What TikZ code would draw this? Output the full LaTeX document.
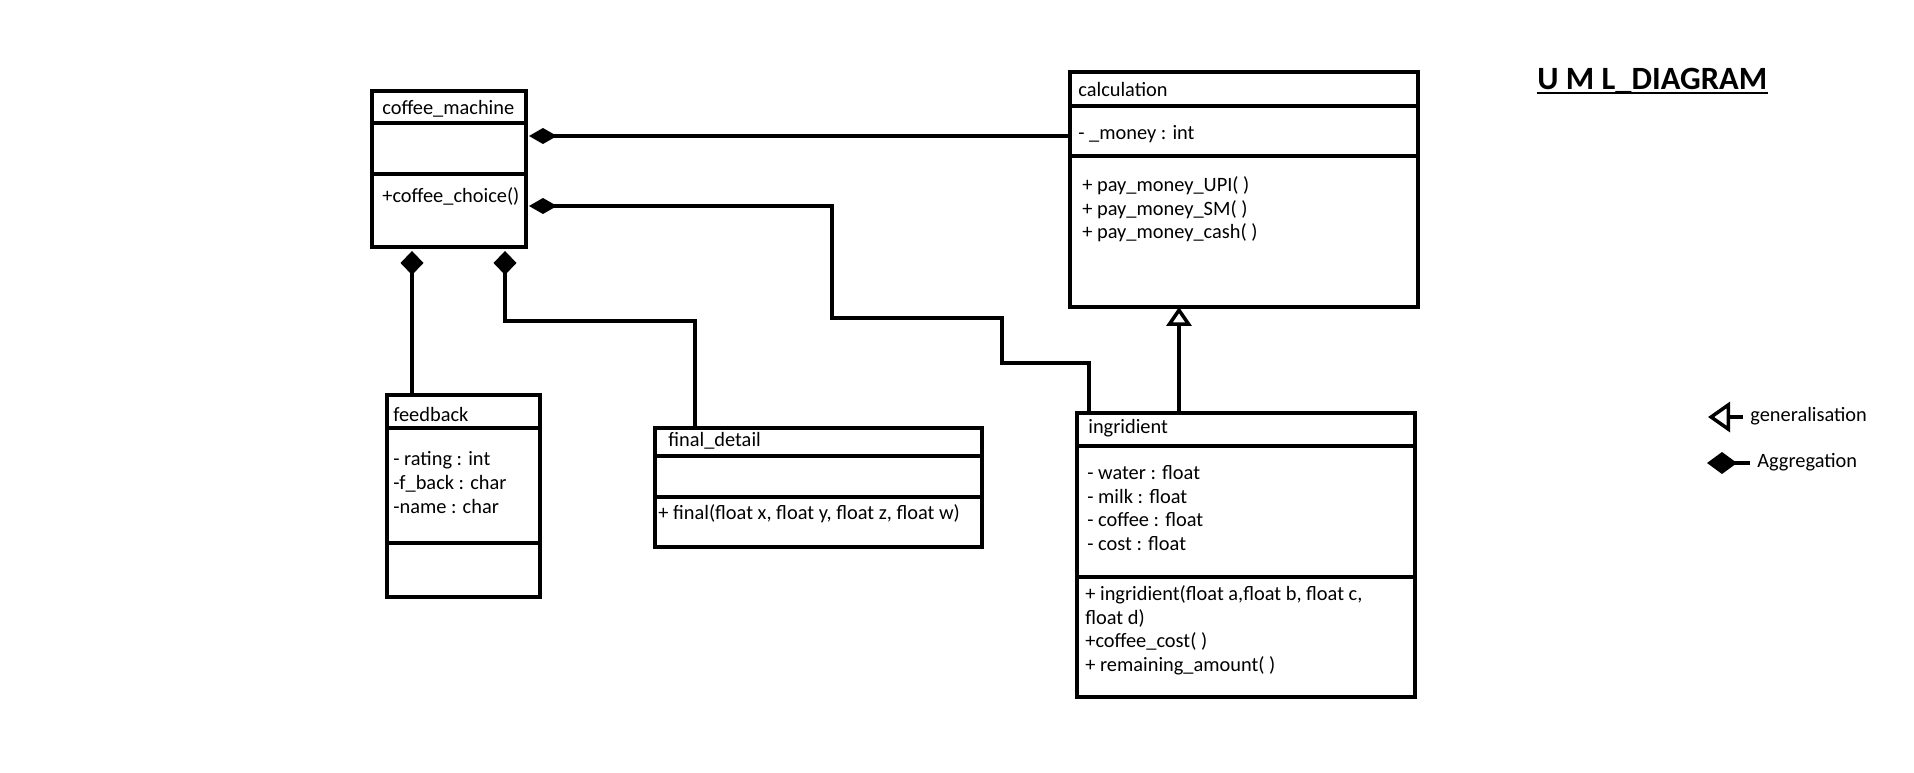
\documentclass[tikz,border=0pt]{standalone}
\usepackage{fontspec}
\setmainfont{Carlito}
\usetikzlibrary{arrows.meta,positioning}
\tikzset{
  cpart/.style={draw, line width=2pt, inner sep=0pt, outer sep=0pt},
  txt/.style={anchor=base west, inner sep=0pt, align=left, font=\fontsize{11.6pt}{13.4pt}\selectfont},
  heading/.style={anchor=base west, inner sep=0pt, font=\fontsize{18.5pt}{22pt}\selectfont\bfseries},
  conn/.style={line width=2pt, line join=miter},
  aggrh/.style={conn, {Diamond[length=0.56cm, width=0.32cm]}-},
  aggrv/.style={conn, {Diamond[length=0.48cm, width=0.46cm]}-},
  gener/.style={conn, -{Triangle[open, length=0.38cm, width=0.5cm, fill=white]}},
}

\begin{document}
\begin{tikzpicture}[x=0.02cm, y=-0.02cm]
  \useasboundingbox (0,0) rectangle (1914,772);

  %% ==================
  %% coffee_machine
  %% ==================
  \node[cpart, minimum width=3.08cm, minimum height=0.64cm, anchor=north west] (cm-head) at (372,91) {};
  \node[cpart, minimum width=3.08cm, minimum height=1.02cm, below=0pt of cm-head] (cm-attr) {};
  \node[cpart, minimum width=3.08cm, minimum height=1.46cm, below=0pt of cm-attr] (cm-ops) {};
  \node[txt] (cm-name) at ([shift={(10,23)}]cm-head.north west) {coffee\_machine};
  \node[txt] (cm-meth) at ([shift={(10,29)}]cm-ops.north west) {+coffee\_choice()};

  %% ==================
  %% calculation
  %% ==================
  \node[cpart, minimum width=6.96cm, minimum height=0.68cm, anchor=north west] (calc-head) at (1070,72) {};
  \node[cpart, minimum width=6.96cm, minimum height=1.00cm, below=0pt of calc-head] (calc-attr) {};
  \node[cpart, minimum width=6.96cm, minimum height=3.02cm, below=0pt of calc-attr] (calc-ops) {};
  \node[txt] (calc-name) at ([shift={(8,24)}]calc-head.north west) {calculation};
  \node[txt] (calc-var) at ([shift={(8,33)}]calc-attr.north west) {- \_money : int};
  % base of a multi-line text is its last line
  \node[txt] (calc-meth) at ([shift={(12,83)}]calc-ops.north west)
    {+ pay\_money\_UPI( )\\+ pay\_money\_SM( )\\+ pay\_money\_cash( )};

  %% ==================
  %% feedback
  %% ==================
  \node[cpart, minimum width=3.06cm, minimum height=0.66cm, anchor=north west] (fb-head) at (387,395) {};
  \node[cpart, minimum width=3.06cm, minimum height=2.30cm, below=0pt of fb-head] (fb-attr) {};
  \node[cpart, minimum width=3.06cm, minimum height=1.08cm, below=0pt of fb-attr] (fb-ops) {};
  \node[txt] (fb-name) at ([shift={(6,26)}]fb-head.north west) {feedback};
  \node[txt] (fb-var) at ([shift={(6,85)}]fb-attr.north west)
    {- rating : int\\-f\_back : char\\-name : char};

  %% ==================
  %% final_detail
  %% ==================
  \node[cpart, minimum width=6.54cm, minimum height=0.56cm, anchor=north west] (fd-head) at (655,428) {};
  \node[cpart, minimum width=6.54cm, minimum height=0.82cm, below=0pt of fd-head] (fd-attr) {};
  \node[cpart, minimum width=6.54cm, minimum height=1.00cm, below=0pt of fd-attr] (fd-ops) {};
  \node[txt] (fd-name) at ([shift={(13,18)}]fd-head.north west) {final\_detail};
  \node[txt] (fd-meth) at ([shift={(3,23)}]fd-ops.north west) {+ final(float x, float y, float z, float w)};

  %% ==================
  %% ingridient
  %% ==================
  \node[cpart, minimum width=6.76cm, minimum height=0.66cm, anchor=north west] (ing-head) at (1077,413) {};
  \node[cpart, minimum width=6.76cm, minimum height=2.62cm, below=0pt of ing-head] (ing-attr) {};
  \node[cpart, minimum width=6.76cm, minimum height=2.40cm, below=0pt of ing-attr] (ing-ops) {};
  \node[txt] (ing-name) at ([shift={(11,20)}]ing-head.north west) {ingridient};
  \node[txt] (ing-var) at ([shift={(10,104.5)}]ing-attr.north west)
    {- water : float\\- milk : float\\- coffee : float\\- cost : float};
  \node[txt] (ing-meth) at ([shift={(8,94.5)}]ing-ops.north west)
    {+ ingridient(float a,float b, float c,\\float d)\\+coffee\_cost( )\\+ remaining\_amount( )};

  %% ==================
  %% connectors
  %% ==================
  \coordinate (a1) at ([shift={(3,13)}]cm-attr.north east);
  \coordinate (a2) at ([shift={(3,32)}]cm-ops.north east);
  \coordinate (a3) at ([shift={(40,4)}]cm-ops.south west);
  \coordinate (a4) at ([shift={(133,4)}]cm-ops.south west);
  \coordinate (b1) at (832,318);
  \coordinate (b2) at (1002,363);
  \coordinate (b3) at (695,321);
  \coordinate (g1) at ([shift={(102,0)}]ing-head.north west);

  % aggregation to calculation
  \draw[aggrh] (a1) -- (a1 -| calc-attr.west);
  % aggregation to ingridient
  \draw[aggrh] (a2) -| (b1) -| (b2) -| ([shift={(12,0)}]ing-head.north west);
  % aggregation to feedback
  \draw[aggrv] (a3) -- (a3 |- fb-head.north);
  % aggregation to final_detail
  \draw[aggrv] (a4) |- (b3) -- (b3 |- fd-head.north);
  % generalisation ingridient -> calculation
  \draw[gener] (g1) -- (g1 |- calc-ops.south);

  %% ==================
  %% title and legend
  %% ==================
  \node[heading] (ttl) at (1537,89) {U M L\_DIAGRAM};
  \draw[line width=1.5pt] ([shift={(0,4)}]ttl.base west) -- ([shift={(0,4)}]ttl.base east);

  \node[txt] (lg-gen) at (1750,421.7) {generalisation};
  \node[txt] (lg-agg) at (1757,467.3) {Aggregation};
  \coordinate (lg-g) at (1743,417);
  \coordinate (lg-a) at (1707,463);
  \draw[conn, -{Triangle[open, length=0.44cm, width=0.6cm, fill=white]}] (lg-g) -- ++(-35,0);
  \draw[conn, {Diamond[length=0.6cm, width=0.44cm]}-] (lg-a) -- ++(43,0);
\end{tikzpicture}
\end{document}
